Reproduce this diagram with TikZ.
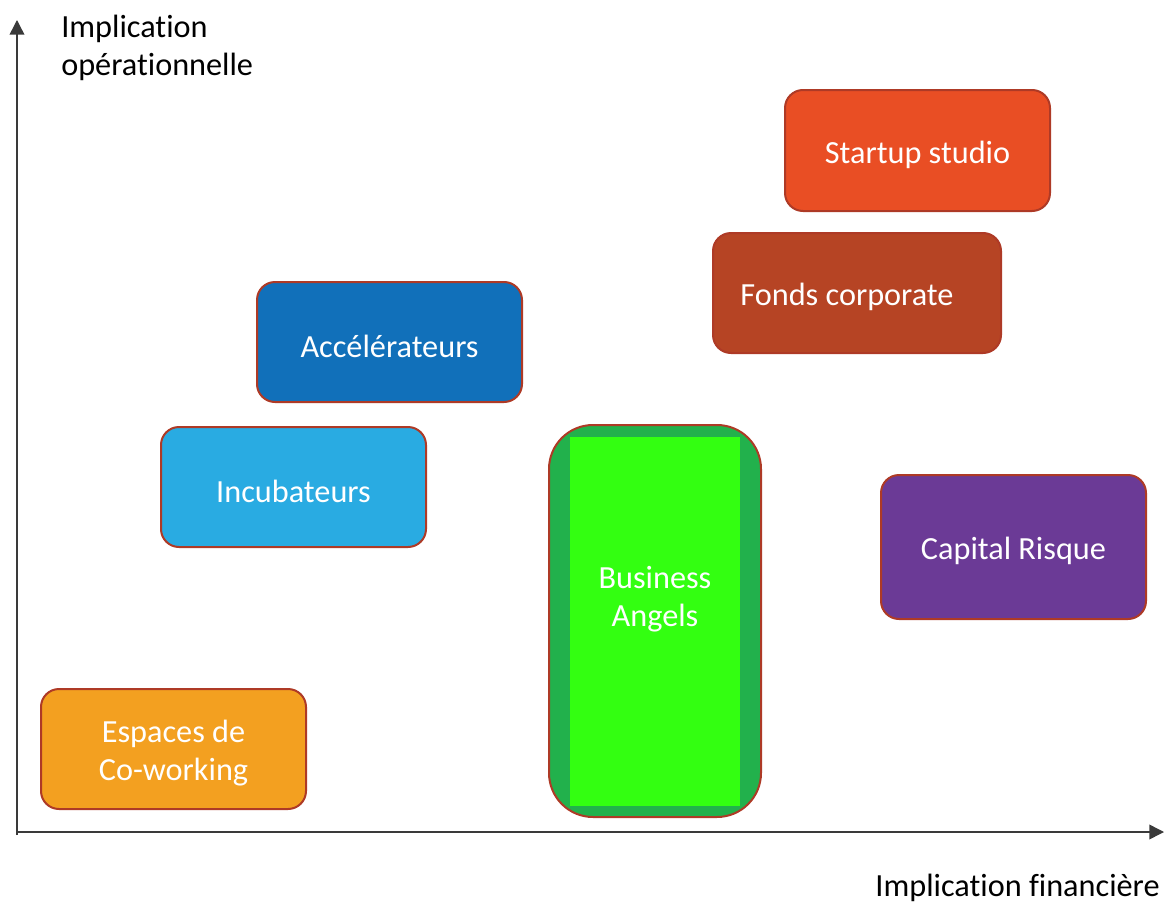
\documentclass[tikz,border=0pt]{standalone}
\usepackage{fontspec}
\setmainfont{Carlito}[Ligatures=NoCommon]
\usetikzlibrary{arrows.meta}
\definecolor{bordc}{HTML}{AE3A26}
\definecolor{cstart}{HTML}{E94E24}
\definecolor{cfonds}{HTML}{B64424}
\definecolor{caccel}{HTML}{1170BA}
\definecolor{cincub}{HTML}{29ABE2}
\definecolor{cbaout}{HTML}{22B14C}
\definecolor{cbain}{HTML}{33FF11}
\definecolor{ccap}{HTML}{6B3A96}
\definecolor{cesp}{HTML}{F3A020}
\definecolor{axc}{HTML}{3A3A3A}
\begin{document}
\begin{tikzpicture}[x=0.75pt,y=-0.75pt,
  txtfont/.style={font=\fontsize{24.2}{28.5}\selectfont},
  boxnode/.style={draw=bordc,line width=1.5pt,rounded corners=13.5pt,
    minimum width=198.75pt,minimum height=90pt,inner sep=0pt},
  boxtext/.style={txtfont,text=white,align=center,inner sep=0pt,yshift=-3pt},
  axisline/.style={draw=axc,line width=1.1pt,-{Triangle[length=11pt,width=11pt]}},
  axlabel/.style={txtfont,text=black,inner sep=0pt}]
\useasboundingbox (0,0) rectangle (1164,903);
% axes
\coordinate (o) at (17,835);
\coordinate (ytop) at (17,20);
\coordinate (ox) at (17,832);
\coordinate (xend) at (1164,832);
\draw[axisline] (o) -- (ytop);
\draw[axisline] (ox) -- (xend);
\node[axlabel,anchor=north west,align=left] (ylab) at (61,15) {Implication\\op\'erationnelle};
\node[axlabel,anchor=base east] (xlab) at (1160,896) {Implication financi\`ere};
% boxes
\node[boxnode,fill=cstart,minimum height=90.75pt,label={[boxtext]center:{Startup studio}}] (startup) at (917.5,150.5) {};
\node[boxnode,fill=cfonds,minimum width=216pt,label={[boxtext,xshift=-7.5pt]center:{Fonds corporate}}] (fonds) at (857,293) {};
\node[boxnode,fill=caccel,label={[boxtext]center:{Acc\'el\'erateurs}}] (accel) at (389.5,342) {};
\node[boxnode,fill=cincub,label={[boxtext]center:{Incubateurs}}] (incub) at (293.5,487) {};
\node[boxnode,fill=ccap,minimum height=108pt,label={[boxtext]center:{Capital Risque}}] (cap) at (1013.5,547) {};
\node[boxnode,fill=cesp,label={[boxtext]center:{Espaces de\\Co-working}}] (esp) at (173.5,749) {};
% business angels
\node[boxnode,fill=cbaout,minimum width=159pt,minimum height=294pt,rounded corners=33pt] (ba) at (655,621) {};
\node[fill=cbain,minimum width=127.5pt,minimum height=276.75pt,inner sep=0pt] (bain) at (655,621.5) {};
\node[boxtext] (batext) at (655,595) {Business\\Angels};
\end{tikzpicture}
\end{document}
